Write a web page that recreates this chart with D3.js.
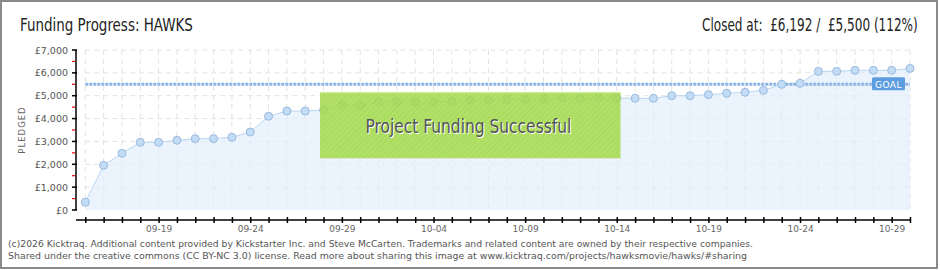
<!DOCTYPE html>
<html lang="en">
<head>
<meta charset="UTF-8">
<title>Funding Progress: HAWKS</title>
<style type="text/css">
  body { margin: 0; background: #fff; }
  svg text { font-family: "DejaVu Sans", sans-serif; }
  .narrow { font-family: "DejaVu Sans Condensed", "Liberation Sans Narrow", sans-serif !important; font-stretch: condensed; white-space: pre; }
  .grid line { stroke: #e2e2e2; stroke-dasharray: 5,4; }
</style>
</head>
<body>
<svg id="chart" width="940" height="270"></svg>

<script src="https://cdn.jsdelivr.net/npm/d3@7"></script>
<script>
  "use strict";

  var dates = ["09-15","09-16","09-17","09-18","09-19","09-20","09-21","09-22","09-23","09-24",
               "09-25","09-26","09-27","09-28","09-29","09-30","10-01","10-02","10-03","10-04",
               "10-05","10-06","10-07","10-08","10-09","10-10","10-11","10-12","10-13","10-14",
               "10-15","10-16","10-17","10-18","10-19","10-20","10-21","10-22","10-23","10-24",
               "10-25","10-26","10-27","10-28","10-29","10-30"];
  var pledged = [340,1955,2480,2960,2960,3050,3120,3120,3180,3410,
                 4100,4330,4330,4375,4580,4595,4725,4725,4725,4725,
                 4755,4800,4800,4840,4840,4870,4885,4885,4900,4900,
                 4885,4885,5000,5000,5045,5105,5150,5235,5500,5540,
                 6065,6065,6110,6110,6110,6192];
  var goal = 5500;
  var yTicks = [0,1000,2000,3000,4000,5000,6000,7000];
  var yMinor = [500,1500,2500,3500,4500,5500,6500];
  var xLabels = ["09-19","09-24","09-29","10-04","10-09","10-14","10-19","10-24","10-29"];

  var svg = d3.select("#chart");

  var x = d3.scalePoint().domain(dates).range([85.3, 910]);
  var y = d3.scaleLinear().domain([0, 7000]).range([210, 50]);
  var fmt = function(d){ return "£" + d3.format(",")(d); };

  // squeeze a text horizontally so it spans `w` px from x0 (narrow-font look)
  function squeezed(parent, x0, yb, w, size, fill, str) {
    var g = parent.append("g");
    var t = g.append("text").attr("class","narrow").attr("x",0).attr("y",0)
      .attr("font-size",size).attr("fill",fill).text(str);
    var k = w / t.node().getComputedTextLength();
    g.attr("transform","translate(" + x0 + "," + yb + ") scale(" + k + ",1)");
    return g;
  }

  // frame
  svg.append("rect").attr("x",1).attr("y",1).attr("width",936).attr("height",267)
     .attr("fill","none").attr("stroke","#8a8a8a").attr("stroke-width",2);

  // titles
  squeezed(svg, 20, 31, 173, 17, "#222", "Funding Progress: HAWKS");
  squeezed(svg, 702, 31, 216, 17, "#222",
     "Closed at:  " + fmt(pledged[pledged.length-1]) + " /  " + fmt(goal) + " (112%)");

  // grid
  var grid = svg.append("g").attr("class","grid");
  grid.selectAll(".v").data(dates).enter().append("line")
      .attr("x1",function(d){return x(d);}).attr("x2",function(d){return x(d);})
      .attr("y1",y(7000)).attr("y2",y(0));
  grid.selectAll(".h").data(yTicks.slice(1)).enter().append("line")
      .attr("x1",x(dates[0])).attr("x2",x(dates[dates.length-1]))
      .attr("y1",function(d){return y(d);}).attr("y2",function(d){return y(d);});

  // area + line
  var area = d3.area().x(function(d,i){return x(dates[i]);}).y0(y(0)).y1(function(d){return y(d);});
  var line = d3.line().x(function(d,i){return x(dates[i]);}).y(function(d){return y(d);});
  svg.append("path").datum(pledged).attr("d",area).attr("fill","#e3effc").attr("fill-opacity",0.7);
  svg.append("path").datum(pledged).attr("d",line).attr("fill","none")
     .attr("stroke","#b9d5f2").attr("stroke-width",1);

  // goal line
  svg.append("line").attr("x1",x(dates[0])).attr("x2",x(dates[dates.length-1]))
     .attr("y1",y(goal)).attr("y2",y(goal))
     .attr("stroke","#8db4e2").attr("stroke-width",3).attr("stroke-dasharray","3,1");

  // points
  svg.selectAll(".pt").data(pledged).enter().append("circle")
     .attr("cx",function(d,i){return x(dates[i]);}).attr("cy",function(d){return y(d);})
     .attr("r",4).attr("fill","#c3dcf6").attr("stroke","#9ab9de").attr("stroke-width",1);

  // goal label
  var gx = 872, gy = y(goal);
  svg.append("rect").attr("x",gx).attr("y",gy-7).attr("width",33).attr("height",13)
     .attr("rx",1.5).attr("fill","#5d9de0");
  svg.append("text").attr("x",gx+16.5).attr("y",gy+3.5).attr("text-anchor","middle")
     .attr("font-size",9).attr("fill","#fff").attr("letter-spacing",0.5).text("GOAL");

  // success banner
  var defs = svg.append("defs");
  var pat = defs.append("pattern").attr("id","stripes").attr("width",4).attr("height",4)
     .attr("patternUnits","userSpaceOnUse").attr("patternTransform","rotate(45)");
  pat.append("rect").attr("width",4).attr("height",4).attr("fill","#a6dc4c");
  pat.append("line").attr("x1",0).attr("y1",0).attr("x2",0).attr("y2",4)
     .attr("stroke","#9cd143").attr("stroke-width",1.5);
  svg.append("rect").attr("x",320).attr("y",92.5).attr("width",300.5).attr("height",66)
     .attr("fill","url(#stripes)").attr("fill-opacity",0.85);
  svg.append("line").attr("x1",320).attr("x2",620.5).attr("y1",93).attr("y2",93)
     .attr("stroke","#bde57c").attr("stroke-width",1);
  svg.append("line").attr("x1",320).attr("x2",620.5).attr("y1",158.5).attr("y2",158.5)
     .attr("stroke","#dfe6d6").attr("stroke-width",1);
  squeezed(svg, 366.5, 134, 206, 19, "#fff", "Project Funding Successful");
  squeezed(svg, 365.5, 133, 206, 19, "#555", "Project Funding Successful");

  // y axis
  var yAxis = svg.append("g").attr("transform","translate(76,0)");
  yAxis.append("line").attr("x1",0).attr("x2",0).attr("y1",y(7000)).attr("y2",y(0))
     .attr("stroke","#000").attr("stroke-width",1.5);
  yAxis.selectAll(".mj").data(yTicks).enter().append("line")
     .attr("x1",-4).attr("x2",1).attr("y1",function(d){return y(d);}).attr("y2",function(d){return y(d);})
     .attr("stroke","#000").attr("stroke-width",1.5);
  yAxis.selectAll(".mn").data(yMinor).enter().append("line")
     .attr("x1",-4).attr("x2",-1).attr("y1",function(d){return y(d);}).attr("y2",function(d){return y(d);})
     .attr("stroke","#e00").attr("stroke-width",1.2);
  yAxis.selectAll(".lb").data(yTicks).enter().append("text")
     .attr("x",-8).attr("y",function(d){return y(d)+3.5;}).attr("text-anchor","end")
     .attr("font-size",9.5).attr("fill","#555").text(fmt);
  svg.append("text").attr("transform","translate(25,130) rotate(-90)").attr("text-anchor","middle")
     .attr("font-size",8.5).attr("letter-spacing",1).attr("fill","#666").text("PLEDGED");

  // x axis
  var xAxis = svg.append("g").attr("transform","translate(0,220)")
     .call(d3.axisBottom(x).tickSizeInner(3).tickSizeOuter(0)
       .tickFormat(function(d){ return xLabels.indexOf(d) >= 0 ? d : ""; }));
  xAxis.select(".domain").attr("d","M76,0H911").attr("stroke","#000").attr("stroke-width",1.5);
  xAxis.selectAll(".tick line").attr("y1",-3).attr("y2",3).attr("stroke","#000").attr("stroke-width",1.5);
  xAxis.selectAll(".tick text").attr("y",6).attr("font-size",9).attr("fill","#666")
     .attr("font-family","DejaVu Sans, sans-serif");

  // footer
  svg.append("text").attr("x",8).attr("y",247).attr("font-size",9.5).attr("fill","#555")
     .attr("textLength",745).attr("lengthAdjust","spacingAndGlyphs")
     .text("(c)2026 Kicktraq. Additional content provided by Kickstarter Inc. and Steve McCarten. Trademarks and related content are owned by their respective companies.");
  svg.append("text").attr("x",8).attr("y",259).attr("font-size",9.5).attr("fill","#555")
     .attr("textLength",739).attr("lengthAdjust","spacingAndGlyphs")
     .text("Shared under the creative commons (CC BY-NC 3.0) license. Read more about sharing this image at www.kicktraq.com/projects/hawksmovie/hawks/#sharing");
</script>
</body>
</html>
